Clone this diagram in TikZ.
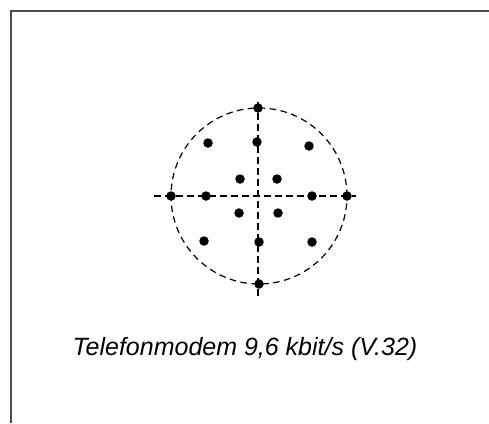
\documentclass[tikz,border=0pt]{standalone}
\usepackage{fontspec}
\setmainfont{Liberation Sans}
\usetikzlibrary{positioning}

\begin{document}
\begin{tikzpicture}[
  x=1pt, y=-1pt,
  dot/.style={circle, fill, inner sep=0pt, minimum size=9.5pt},
  guide/.style={line width=1.2pt, dash pattern=on 6.5pt off 4.5pt},
  frameline/.style={line width=1.2pt, black!70},
]
\useasboundingbox (0,0) rectangle (489,423);
\draw[frameline] (489,11) -- (11,11) -- (11,423);

% constellation
\coordinate (c) at (259,196);
\coordinate (w) at (154,196);
\coordinate (e) at (356,196);
\coordinate (n) at (258,102);
\coordinate (s) at (258,298);
\draw[guide] (c) circle[radius=88pt];
\draw[guide] (w) -- (e);
\draw[guide] (n) -- (s);

\foreach \px/\py/\nm in {258/108/top, 259/284/bottom, 171/196/left, 347/196/right,
    208/143/nw, 257/142/nn, 309/146/ne,
    206/196/ww, 312/196/ee,
    240/179/inw, 277/179/ine, 239/213/isw, 278/213/ise,
    204/241/sw, 259/242/ss, 312/242/se}
  \node[dot] (\nm) at (\px,\py) {};

\node[font=\fontsize{25}{30}\selectfont\itshape, inner sep=0pt] (caption) at (245,349.5)
  {Telefonmodem 9,6 kbit/s (V.32)};
\end{tikzpicture}
\end{document}
